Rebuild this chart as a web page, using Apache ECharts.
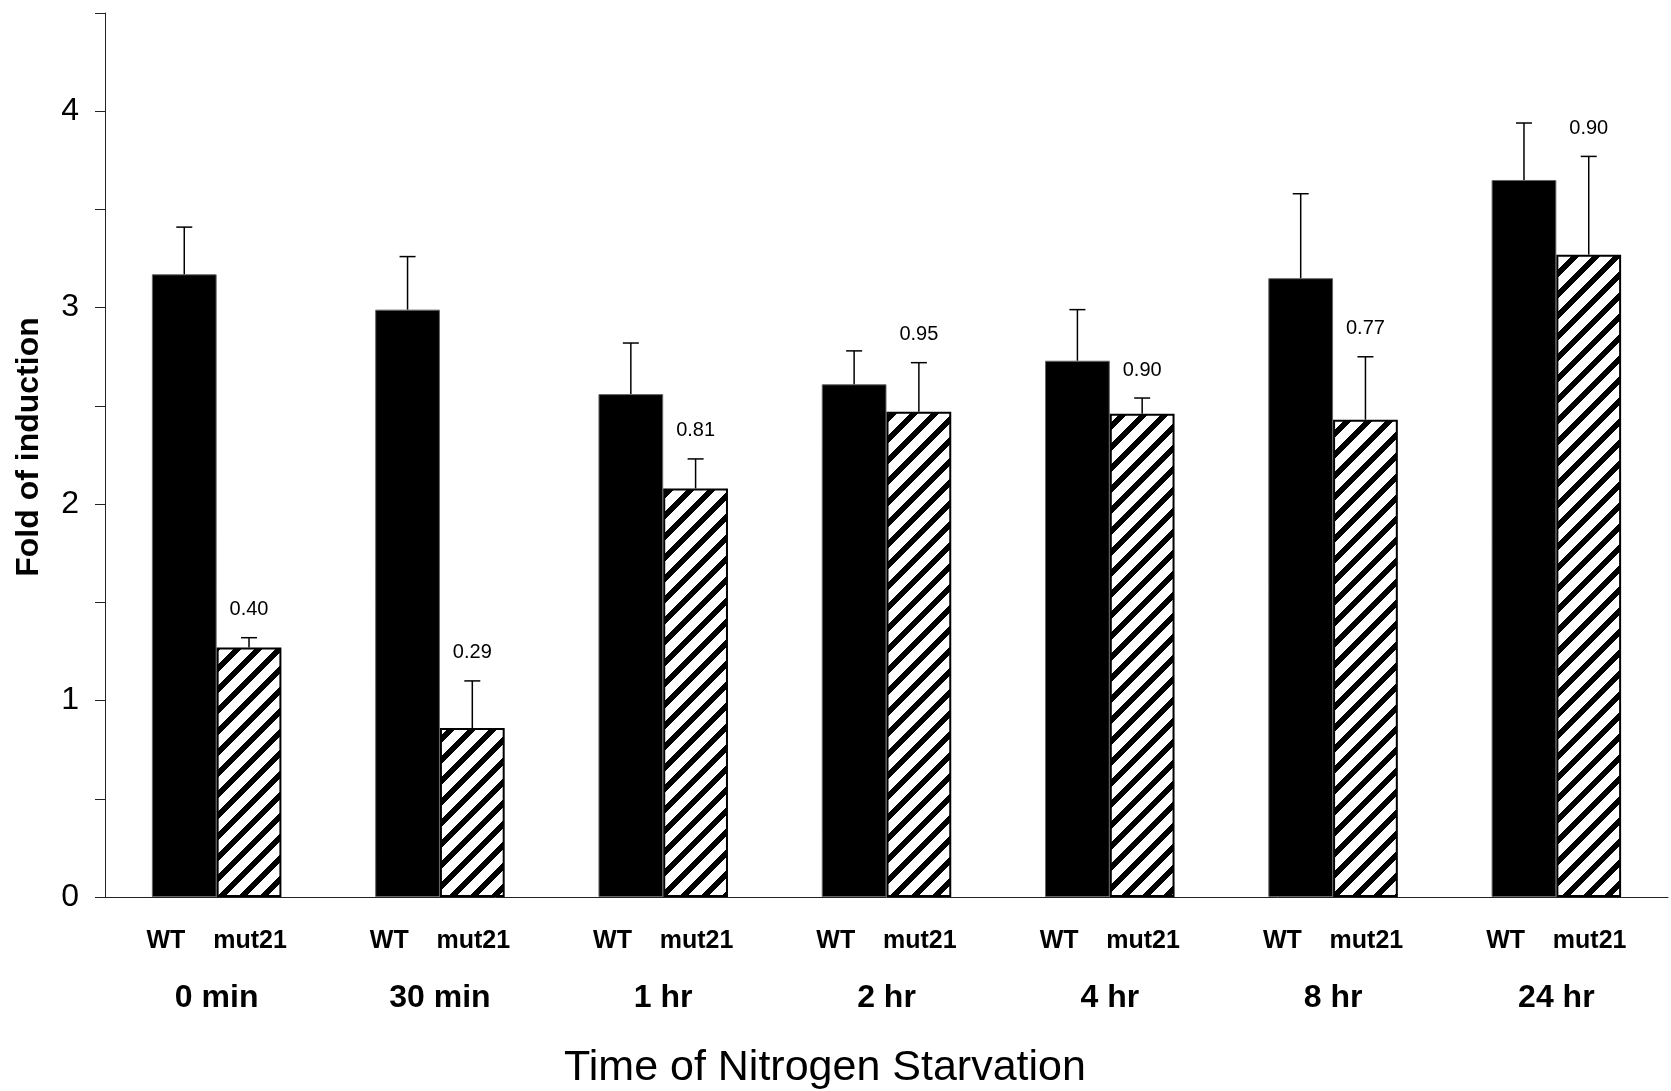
<!DOCTYPE html>
<html>
<head>
<meta charset="utf-8">
<title>Fold of induction</title>
<script src="https://cdn.jsdelivr.net/npm/echarts@6/dist/echarts.min.js"></script>
<style>
  html, body { margin: 0; padding: 0; background: #fff; }
  #chart { width: 1671px; height: 1091px; }
</style>
</head>
<body>
<div id="chart"></div>
<script>
// data
var times = ['0 min', '30 min', '1 hr', '2 hr', '4 hr', '8 hr', '24 hr'];
var wtValues = [3.17, 2.99, 2.56, 2.61, 2.73, 3.15, 3.65];
var wtErrors = [0.24, 0.27, 0.26, 0.17, 0.26, 0.43, 0.29];
var mutValues = [1.27, 0.86, 2.08, 2.47, 2.46, 2.43, 3.27];
var mutErrors = [0.05, 0.24, 0.15, 0.25, 0.08, 0.32, 0.50];
var ratioLabels = ['0.40', '0.29', '0.81', '0.95', '0.90', '0.77', '0.90'];

(function() {
  var font = '"Liberation Sans", Arial, sans-serif';
  var barFrac = 0.29;

  // diagonal hatch tile for mut21 bars, drawn pixel by pixel so it tiles cleanly
  var p = 21, band = 8;
  var tile = document.createElement('canvas');
  tile.width = p; tile.height = p;
  var ctx = tile.getContext('2d');
  var img = ctx.createImageData(p, p);
  for (var y = 0; y < p; y++) {
    for (var x = 0; x < p; x++) {
      var d = (x + y) % p;
      var c = d < band ? 0 : 255;
      var o = (y * p + x) * 4;
      img.data[o] = c; img.data[o + 1] = c; img.data[o + 2] = c; img.data[o + 3] = 255;
    }
  }
  ctx.putImageData(img, 0, 0);

  function errorBars(values, errors, side, labels) {
    return {
      type: 'custom',
      z: 5,
      data: values.map(function(v, i) { return [i, v, errors[i]]; }),
      renderItem: function(params, api) {
        var i = api.value(0);
        var v = api.value(1);
        var top = api.coord([i, v + api.value(2)]);
        var base = api.coord([i, v]);
        var bw = api.size([1, 0])[0] * barFrac;
        var x = base[0] + side * bw / 2;
        var kids = [
          { type: 'line', shape: { x1: x, y1: base[1], x2: x, y2: top[1] },
            style: { stroke: '#000', lineWidth: 1.5 } },
          { type: 'line', shape: { x1: x - 8, y1: top[1], x2: x + 8, y2: top[1] },
            style: { stroke: '#000', lineWidth: 1.5 } }
        ];
        if (labels) {
          kids.push({ type: 'text', style: {
            text: labels[params.dataIndex], x: x, y: top[1] - 28,
            align: 'center', verticalAlign: 'middle',
            fill: '#000', fontSize: 20, fontFamily: font
          } });
        }
        return { type: 'group', children: kids };
      }
    };
  }

  var chart = echarts.init(document.getElementById('chart'));
  chart.setOption({
    animation: false,
    backgroundColor: '#fff',
    textStyle: { fontFamily: font, color: '#000' },
    grid: { left: 105, right: 3, top: 13, bottom: 194, containLabel: false, outerBoundsMode: 'none' },
    xAxis: {
      type: 'category',
      data: times,
      axisLine: { lineStyle: { color: '#222', width: 1 } },
      axisTick: { length: 8, lineStyle: { color: '#222' } },
      axisLabel: {
        interval: 0,
        margin: 30,
        color: '#000',
        formatter: function(v) { return '{a|WT    mut21}\n{b|' + v + '}'; },
        rich: {
          a: { fontSize: 25, fontWeight: 'bold', fontFamily: font, color: '#000', lineHeight: 28 },
          b: { fontSize: 32, fontWeight: 'bold', fontFamily: font, color: '#000', lineHeight: 86 }
        }
      }
    },
    yAxis: {
      type: 'value',
      min: 0,
      max: 4.5,
      interval: 0.5,
      axisLine: { show: true, lineStyle: { color: '#222', width: 1 } },
      axisTick: { show: true, length: 10, lineStyle: { color: '#222' } },
      splitLine: { show: false },
      axisLabel: {
        margin: 26,
        fontSize: 32,
        color: '#000',
        formatter: function(v) { return v % 1 === 0 ? String(v) : ''; }
      }
    },
    graphic: [
      {
        type: 'text',
        x: 29, y: 447,
        rotation: Math.PI / 2,
        style: {
          text: 'Fold of induction',
          align: 'center', verticalAlign: 'middle',
          fontSize: 32, fontWeight: 'bold', fontFamily: font, fill: '#000'
        }
      },
      {
        type: 'text',
        x: 825, y: 1068,
        style: {
          text: 'Time of Nitrogen Starvation',
          align: 'center', verticalAlign: 'middle',
          fontSize: 43, fontFamily: font, fill: '#000'
        }
      }
    ],
    series: [
      {
        name: 'WT',
        type: 'bar',
        barWidth: (barFrac * 100) + '%',
        barGap: '0%',
        itemStyle: { color: '#000', borderColor: '#666', borderWidth: 1 },
        data: wtValues
      },
      {
        name: 'mut21',
        type: 'bar',
        barWidth: (barFrac * 100) + '%',
        barGap: '0%',
        itemStyle: { color: { image: tile, repeat: 'repeat' }, borderColor: '#000', borderWidth: 2 },
        data: mutValues
      },
      errorBars(wtValues, wtErrors, -1, null),
      errorBars(mutValues, mutErrors, 1, ratioLabels)
    ]
  });
  window.addEventListener('resize', function() { chart.resize(); });
})();
</script>
</body>
</html>
